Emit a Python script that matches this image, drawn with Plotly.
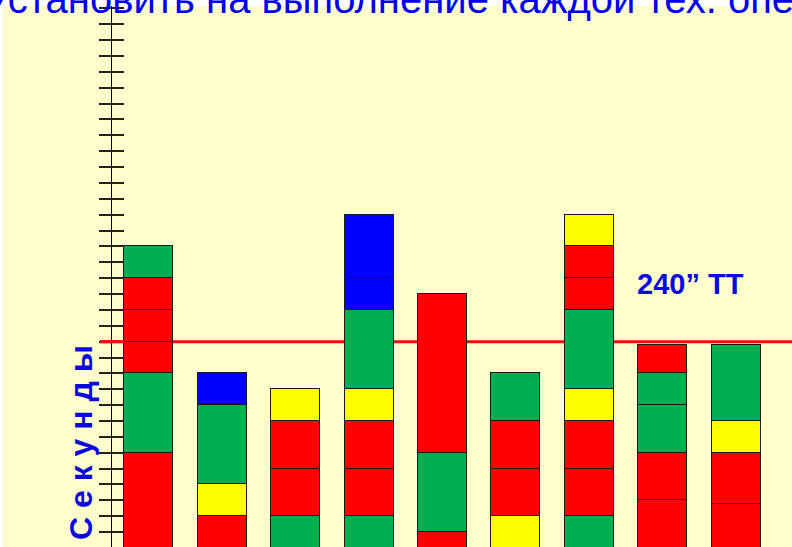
import plotly.graph_objects as go

# ---- data (seconds) ----
bars = ["1", "2", "3", "4", "5", "6", "7", "8", "9"]
bar1 = [170, 50, 20, 20, 20, 20]
bar1_colors = ["R", "G", "R", "R", "R", "G"]
bar2 = [130, 20, 50, 20]
bar2_colors = ["R", "Y", "G", "B"]
bar3 = [130, 30, 30, 20]
bar3_colors = ["G", "R", "R", "Y"]
bar4 = [130, 30, 30, 20, 50, 20, 40]
bar4_colors = ["G", "R", "R", "Y", "G", "B", "B"]
bar5 = [120, 50, 100]
bar5_colors = ["R", "G", "R"]
bar6 = [100, 30, 30, 30, 30]
bar6_colors = ["R", "Y", "R", "R", "G"]
bar7 = [130, 30, 30, 20, 50, 20, 20, 20]
bar7_colors = ["G", "R", "R", "Y", "G", "R", "R", "Y"]
bar8 = [140, 30, 30, 20, 18]
bar8_colors = ["R", "R", "G", "G", "R"]
bar9 = [138, 32, 20, 48]
bar9_colors = ["R", "R", "Y", "G"]
takt_time = 240
takt_label = "240\u201d TT"
y_title = "Секунды"
top_title = "Установить на выполнение каждой тех. операции"

segments = [bar1, bar2, bar3, bar4, bar5, bar6, bar7, bar8, bar9]
seg_colors = [bar1_colors, bar2_colors, bar3_colors, bar4_colors, bar5_colors,
              bar6_colors, bar7_colors, bar8_colors, bar9_colors]
palette = {"R": "#FF0000", "G": "#00B050", "Y": "#FFFF00", "B": "#0000FF"}

# ---- layout geometry ----
W, H = 792, 547
ML, MT = 112, 6
PW, PH = W - ML, H - MT


def px_x(px):
    return (px - ML) / PW


def px_y(py):
    return (H - py) / PH


cream = "#FFFDCC"
fig = go.Figure()
n_layers = max(len(s) for s in segments)
xs = list(range(len(bars)))
for k in range(n_layers):
    vals = [s[k] if k < len(s) else None for s in segments]
    cols = [palette[c[k]] if k < len(c) else "rgba(0,0,0,0)" for c in seg_colors]
    fig.add_trace(go.Bar(
        x=xs, y=vals, width=0.667,
        marker=dict(color=cols, line=dict(color="#1a1a1a", width=1.5)),
        showlegend=False, hoverinfo="skip",
    ))

# secondary axis for the inner half of the crossing ticks
fig.add_trace(go.Scatter(x=[None], y=[None], yaxis="y2", showlegend=False, hoverinfo="skip"))

yr = [110.6, 451.5]
fig.update_layout(
    width=W, height=H,
    margin=dict(l=ML, r=0, t=MT, b=0, pad=0),
    paper_bgcolor="white", plot_bgcolor=cream,
    barmode="stack", bargap=0,
    xaxis=dict(range=[-0.5, 8.76], visible=False, fixedrange=True),
    yaxis=dict(range=yr, tick0=0, dtick=10, ticks="outside", ticklen=12, tickwidth=2,
               tickcolor="#222222", showticklabels=False, showgrid=False, zeroline=False,
               showline=True, linecolor="black", linewidth=1),
    yaxis2=dict(range=yr, tick0=0, dtick=10, ticks="inside", ticklen=12, tickwidth=2,
                tickcolor="#222222", showticklabels=False, showgrid=False, zeroline=False,
                showline=False, overlaying="y", side="left"),
    shapes=[
        dict(type="rect", xref="paper", yref="paper", x0=px_x(3), x1=1, y0=0, y1=1,
             fillcolor=cream, line=dict(width=0), layer="below"),
        dict(type="line", xref="paper", yref="y", x0=px_x(100), x1=1, y0=takt_time, y1=takt_time,
             line=dict(color="#E81010", width=3), layer="below"),
        dict(type="line", xref="paper", yref="y", x0=px_x(100), x1=px_x(124), y0=takt_time, y1=takt_time,
             line=dict(color="#E81010", width=3), layer="above"),
    ],
    annotations=[
        dict(text=takt_label, xref="paper", yref="paper", x=px_x(690), y=px_y(284),
             xanchor="center", yanchor="middle", showarrow=False,
             font=dict(family="Liberation Sans, Arial", size=29, color="#0A0ADC", weight="bold")),
        dict(text=" ".join(y_title), xref="paper", yref="paper", x=px_x(81), y=px_y(443),
             xanchor="center", yanchor="middle", showarrow=False, textangle=-90,
             font=dict(family="Liberation Sans, Arial", size=32, color="#0A0ADC", weight="bold")),
        dict(text=top_title, xref="paper", yref="paper", x=px_x(-17), y=px_y(23),
             xanchor="left", yanchor="bottom", showarrow=False,
             font=dict(family="Liberation Sans, Arial", size=40, color="#0000EE")),
    ],
)

fig.write_html("out.html")
